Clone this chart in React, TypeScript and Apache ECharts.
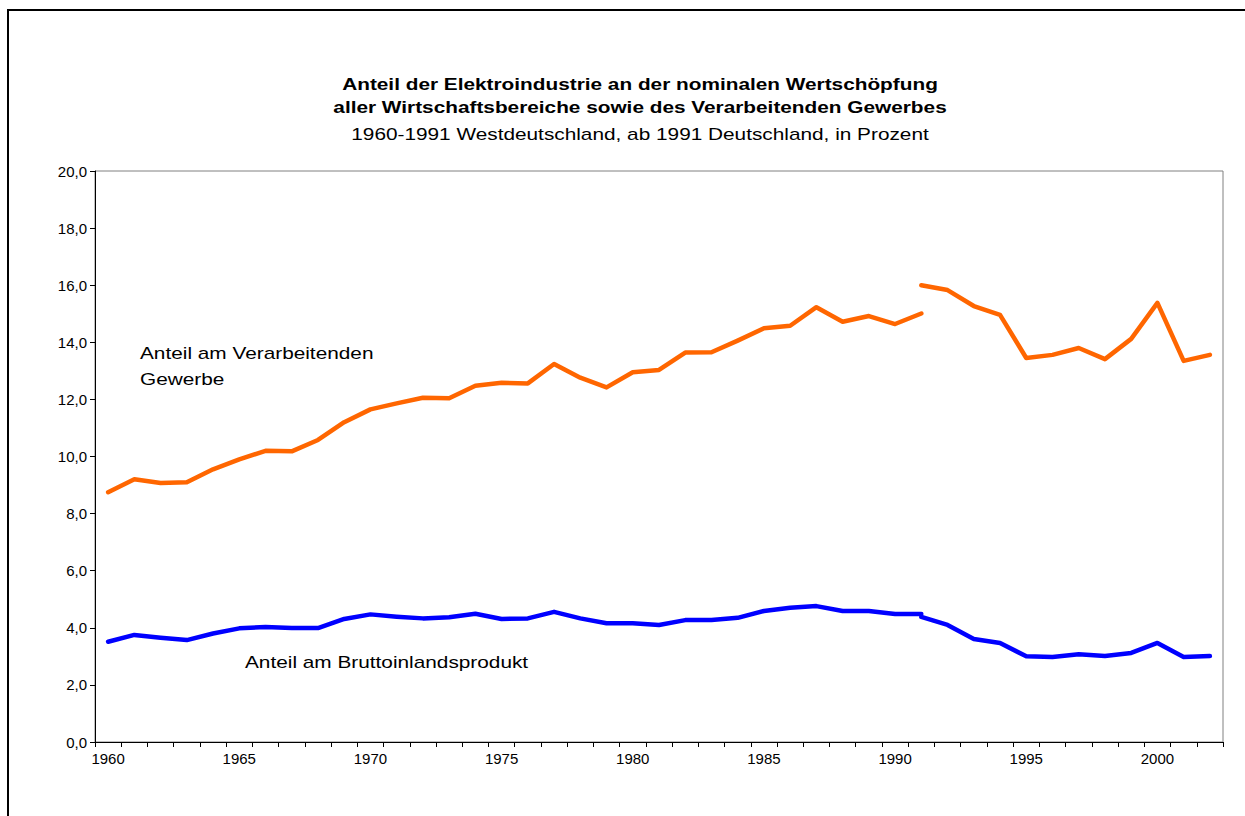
import React, { useEffect, useRef } from "react";
import * as echarts from "echarts";

const years: string[] = [];
for (let y = 1960; y <= 2002; y++) years.push(String(y));

// Anteil am Verarbeitenden Gewerbe, Westdeutschland 1960-1991
const vgWest = [8.75, 9.2, 9.07, 9.1, 9.55, 9.9, 10.2, 10.18, 10.58, 11.2, 11.65, 11.86, 12.06, 12.04, 12.48, 12.58,
  12.56, 13.24, 12.76, 12.42, 12.95, 13.03, 13.64, 13.65, 14.06, 14.49, 14.58, 15.23, 14.72, 14.92, 14.64, 15.01];
// Anteil am Verarbeitenden Gewerbe, Deutschland ab 1991
const vgGer = [16.0, 15.83, 15.27, 14.96, 13.45, 13.56, 13.8, 13.41, 14.12, 15.38, 13.35, 13.56];
// Anteil am BIP, Westdeutschland 1960-1991
const bipWest = [3.51, 3.75, 3.65, 3.57, 3.8, 3.98, 4.03, 3.99, 3.99, 4.31, 4.47, 4.39, 4.33, 4.37, 4.49, 4.31,
  4.33, 4.56, 4.33, 4.16, 4.16, 4.1, 4.27, 4.27, 4.35, 4.59, 4.7, 4.76, 4.59, 4.59, 4.48, 4.48];
// Anteil am BIP, Deutschland ab 1991
const bipGer = [4.38, 4.1, 3.61, 3.47, 3.0, 2.98, 3.07, 3.01, 3.12, 3.47, 2.98, 3.01];

const padWest = (a: number[]) => [...a, ...Array(years.length - a.length).fill(null)];
const padGer = (a: number[]) => [...Array(years.length - a.length).fill(null), ...a];

const FONT = "'Liberation Sans', Arial, sans-serif";
const ORANGE = "#FF6600";
const BLUE = "#0000FF";
const SX = 1.3;

export default function App() {
  const ref = useRef<HTMLDivElement>(null);
  useEffect(() => {
    if (!ref.current) return;
    const chart = echarts.init(ref.current, null, { renderer: "svg" });
    const lineStyle = (c: string) => ({ color: c, width: 4.5, cap: "round", join: "round" });
    const mk = (name: string, data: (number | null)[], c: string) => ({
      name,
      type: "line",
      data,
      symbol: "none",
      connectNulls: false,
      lineStyle: lineStyle(c),
      itemStyle: { color: c },
    });
    const txt = (text: string, x: number, y: number, align: string, bold = false) => ({
      type: "text",
      x,
      y,
      scaleX: SX,
      style: {
        text,
        fontFamily: FONT,
        fontSize: 16,
        fontWeight: bold ? "bold" : "normal",
        fill: "#000",
        textAlign: align,
        textVerticalAlign: "middle",
      },
    });
    chart.setOption({
      animation: false,
      backgroundColor: "#ffffff",
      textStyle: { fontFamily: FONT },
      grid: { left: 95, top: 171, right: 22, bottom: 74, show: true, borderColor: "#808080", borderWidth: 1 },
      xAxis: {
        type: "category",
        data: years,
        boundaryGap: true,
        axisLine: { lineStyle: { color: "#000", width: 1 } },
        axisTick: { show: true, interval: 0, length: 5, lineStyle: { color: "#000" } },
        axisLabel: { interval: 4, color: "#000", fontSize: 15, fontFamily: FONT, margin: 9 },
        splitLine: { show: false },
      },
      yAxis: {
        type: "value",
        min: 0,
        max: 20,
        interval: 2,
        axisLine: { show: true, lineStyle: { color: "#000", width: 1 } },
        axisTick: { show: true, length: 5, lineStyle: { color: "#000" } },
        axisLabel: {
          color: "#000",
          fontSize: 15,
          fontFamily: FONT,
          margin: 8,
          formatter: (v: number) => v.toFixed(1).replace(".", ","),
        },
        splitLine: { show: false },
      },
      series: [
        mk("VG West", padWest(vgWest), ORANGE),
        mk("VG Deutschland", padGer(vgGer), ORANGE),
        mk("BIP West", padWest(bipWest), BLUE),
        mk("BIP Deutschland", padGer(bipGer), BLUE),
      ],
      graphic: [
        {
          type: "rect",
          shape: { x: 8, y: 10, width: 1260, height: 830 },
          style: { fill: "none", stroke: "#000", lineWidth: 2 },
          silent: true,
        },
        txt("Anteil der Elektroindustrie an der nominalen Wertschöpfung", 640, 84, "center", true),
        txt("aller Wirtschaftsbereiche sowie des Verarbeitenden Gewerbes", 640, 107, "center", true),
        txt("1960-1991 Westdeutschland, ab 1991 Deutschland, in Prozent", 640, 134, "center"),
        txt("Anteil am Verarbeitenden", 140, 353, "left"),
        txt("Gewerbe", 140, 379, "left"),
        txt("Anteil am Bruttoinlandsprodukt", 245, 662, "left"),
      ],
    });
    return () => chart.dispose();
  }, []);
  return (
    <div
      ref={ref}
      style={{ position: "fixed", left: 0, top: 0, width: 1245, height: 816, background: "#fff" }}
    />
  );
}
